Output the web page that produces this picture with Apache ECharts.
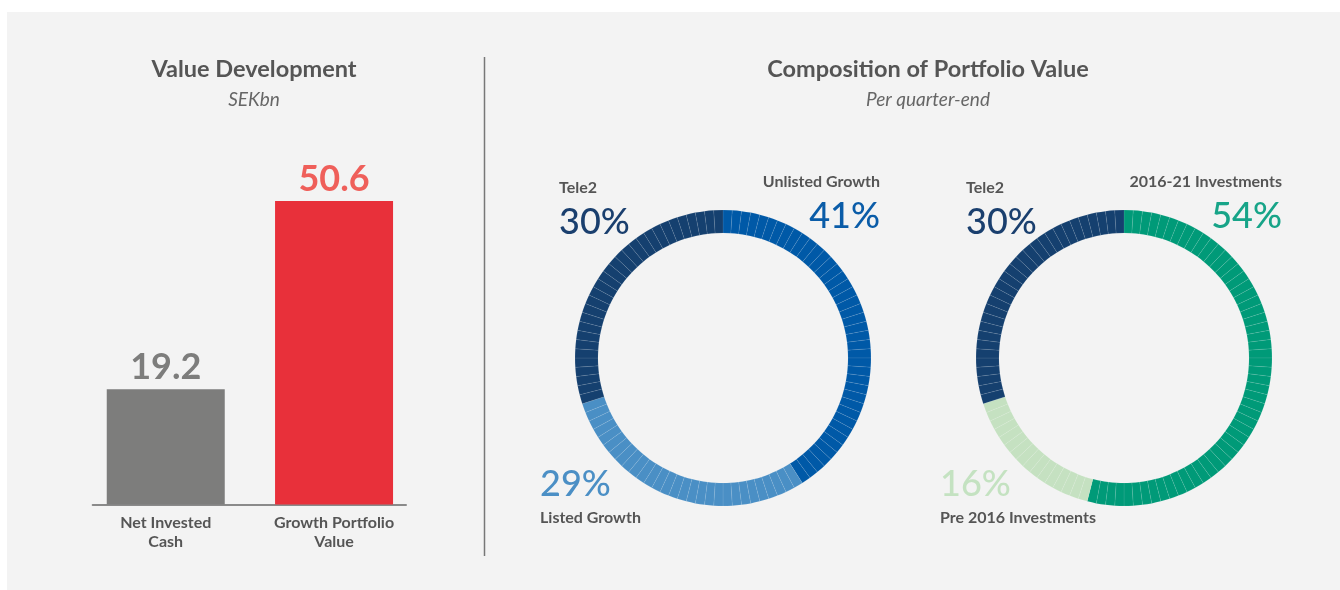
<!DOCTYPE html>
<html>
<head>
<meta charset="utf-8">
<script src="https://cdn.jsdelivr.net/npm/echarts@6/dist/echarts.min.js"></script>
<style>
html,body{margin:0;padding:0;background:#ffffff;}
#chart{width:1340px;height:590px;}
</style>
</head>
<body>
<div id="chart"></div>
<script>
// ---- Data ----
const barCategories = ['Net Invested\nCash', 'Growth Portfolio\nValue'];
const barValues = [19.2, 50.6];

const donut1Categories = ['Unlisted Growth', 'Listed Growth', 'Tele2'];
const donut1Values = [41, 29, 30];

const donut2Categories = ['2016-21 Investments', 'Pre 2016 Investments', 'Tele2'];
const donut2Values = [54, 16, 30];

// ---- Styles ----
const FONT = 'Lato, "Noto Sans", sans-serif';
const barColors = ['#7d7d7c', '#e8303a'];
const barLabelColors = ['#7d7d7c', '#ef5f5a'];
const donut1Colors = ['#0059a7', '#4a8fc5', '#15406f'];
const donut1TextColors = ['#0a5ca8', '#4b8fc5', '#1a3f6e'];
const donut2Colors = ['#009a78', '#c5e1c1', '#15406f'];
const donut2TextColors = ['#17a488', '#c4e2c1', '#1a3f6e'];

// build 1%-segments for the ringed donut look
function segments(cats, vals, colors) {
  const out = [];
  cats.forEach((c, i) => {
    for (let k = 0; k < vals[i]; k++) {
      out.push({ value: 1, name: c, itemStyle: { color: colors[i] } });
    }
  });
  return out;
}

const chart = echarts.init(document.getElementById('chart'), null, { renderer: 'canvas' });

function catText(x, y, text, align) {
  return { type: 'text', x: x, y: y, style: { text: text, fill: '#555555', font: 'bold 16px ' + FONT, align: align, verticalAlign: 'middle' } };
}
function pctText(x, y, v, color, align) {
  return { type: 'text', x: x, y: y, style: { text: v + '%', fill: color, font: '500 36px ' + FONT, align: align, verticalAlign: 'middle' } };
}

const option = {
  backgroundColor: '#ffffff',
  animation: false,
  title: [
    { text: 'Value Development', subtext: 'SEKbn', left: 249, top: 52, textAlign: 'center', itemGap: 9,
      textStyle: { fontFamily: FONT, fontSize: 23.5, fontWeight: 'bold', color: '#555555' },
      subtextStyle: { fontFamily: FONT, fontSize: 19, fontStyle: 'italic', color: '#666666' } },
    { text: 'Composition of Portfolio Value', subtext: 'Per quarter-end', left: 923, top: 52, textAlign: 'center', itemGap: 9,
      textStyle: { fontFamily: FONT, fontSize: 23.5, fontWeight: 'bold', color: '#555555' },
      subtextStyle: { fontFamily: FONT, fontSize: 19, fontStyle: 'italic', color: '#666666' } }
  ],
  graphic: [
    { type: 'rect', z: -10, shape: { x: 7, y: 12, width: 1333, height: 578 }, style: { fill: '#f3f3f3' } },
    { type: 'line', shape: { x1: 484.5, y1: 57, x2: 484.5, y2: 556 }, style: { stroke: '#777777', lineWidth: 1.5 } },
    // donut 1 labels
    catText(559, 188, donut1Categories[2], 'left'),
    pctText(559, 222, donut1Values[2], donut1TextColors[2], 'left'),
    catText(880, 182, donut1Categories[0], 'right'),
    pctText(880, 216, donut1Values[0], donut1TextColors[0], 'right'),
    pctText(540, 484, donut1Values[1], donut1TextColors[1], 'left'),
    catText(540, 518, donut1Categories[1], 'left'),
    // donut 2 labels
    catText(966, 188, donut2Categories[2], 'left'),
    pctText(966, 222, donut2Values[2], donut2TextColors[2], 'left'),
    catText(1282, 182, donut2Categories[0], 'right'),
    pctText(1282, 216, donut2Values[0], donut2TextColors[0], 'right'),
    pctText(940, 484, donut2Values[1], donut2TextColors[1], 'left'),
    catText(940, 518, donut2Categories[1], 'left')
  ],
  grid: [
    { left: 81.6, width: 336.6, top: 144.5, height: 360 },
    { left: 92.7, width: 313.3, top: 144.5, height: 360 }
  ],
  xAxis: [
    { type: 'category', gridIndex: 0, data: barCategories,
      axisLine: { show: false }, axisTick: { show: false },
      axisLabel: { margin: 9, fontFamily: FONT, fontSize: 16, fontWeight: 'bold', color: '#555555', lineHeight: 19 } },
    { type: 'category', gridIndex: 1, data: [''],
      axisLine: { show: true, lineStyle: { color: '#8a8a8a', width: 2 } },
      axisTick: { show: false }, axisLabel: { show: false } }
  ],
  yAxis: [
    { type: 'value', gridIndex: 0, min: 0, max: 60, show: false, splitLine: { show: false } },
    { type: 'value', gridIndex: 1, min: 0, max: 60, show: false, splitLine: { show: false } }
  ],
  series: [
    { type: 'bar', xAxisIndex: 0, yAxisIndex: 0, barWidth: 118,
      data: barValues.map((v, i) => ({ value: v, itemStyle: { color: barColors[i] },
        label: { color: barLabelColors[i] } })),
      label: { show: true, position: 'top', distance: 4, fontFamily: FONT, fontSize: 36, fontWeight: 'bold',
        formatter: p => p.value.toFixed(1) } },
    { type: 'pie', center: [723, 358], radius: [125, 148], startAngle: 90, clockwise: true,
      label: { show: false }, labelLine: { show: false }, emphasis: { disabled: true },
      itemStyle: { borderColor: 'rgba(255,255,255,0.16)', borderWidth: 0.5 },
      data: segments(donut1Categories, donut1Values, donut1Colors) },
    { type: 'pie', center: [1124, 358], radius: [125, 148], startAngle: 90, clockwise: true,
      label: { show: false }, labelLine: { show: false }, emphasis: { disabled: true },
      itemStyle: { borderColor: 'rgba(255,255,255,0.16)', borderWidth: 0.5 },
      data: segments(donut2Categories, donut2Values, donut2Colors) }
  ]
};
chart.setOption(option);
</script>
</body>
</html>
